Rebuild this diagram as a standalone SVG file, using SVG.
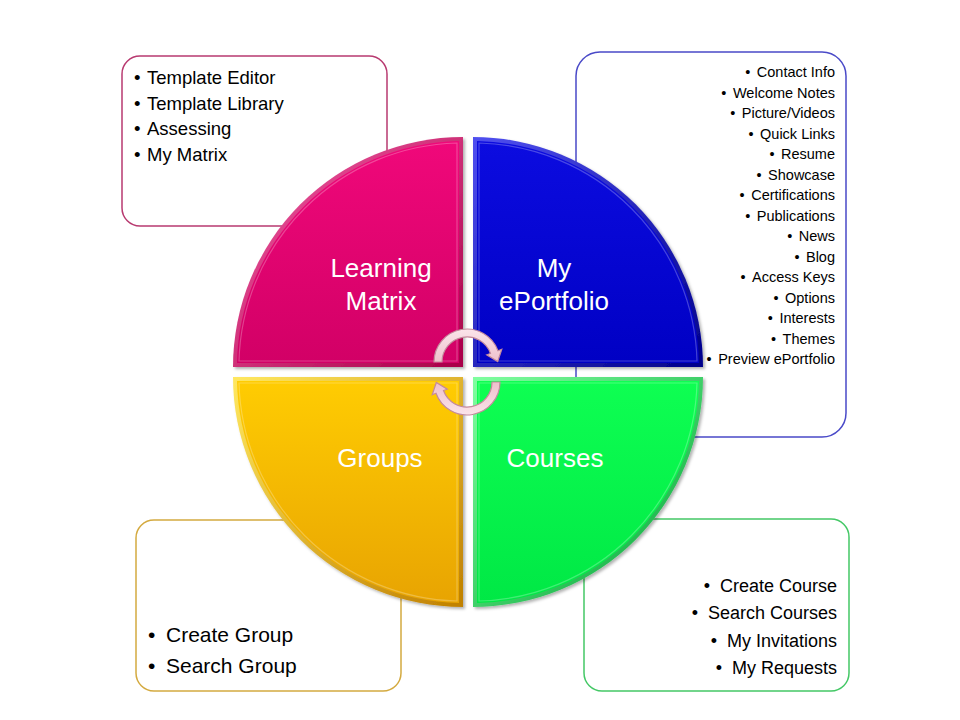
<svg xmlns="http://www.w3.org/2000/svg" width="960" height="720" viewBox="0 0 960 720">
<defs>
<style>
.box{fill:#ffffff;stroke-width:1.5}
.lbl{font-family:"Liberation Sans",Arial,sans-serif;font-size:26px;fill:#ffffff;text-anchor:middle}
.tl{font-family:"Liberation Sans",Arial,sans-serif;font-size:18.5px;fill:#000000}
.tr{font-family:"Liberation Sans",Arial,sans-serif;font-size:14.5px;fill:#000000;text-anchor:end}
.bl{font-family:"Liberation Sans",Arial,sans-serif;font-size:21px;fill:#000000}
.br{font-family:"Liberation Sans",Arial,sans-serif;font-size:18px;fill:#000000;text-anchor:end}
.hl{fill:none;stroke:#ffffff;stroke-opacity:0.25;stroke-width:1.2}
.arr{fill:url(#gArr);stroke:#c48a9c;stroke-width:1.2}
</style>
<linearGradient id="mBand" x1="0" y1="0" x2="1" y2="1"><stop offset="0" stop-color="#f560a8"/><stop offset="1" stop-color="#a80048"/></linearGradient>
<linearGradient id="mIn" x1="0" y1="0" x2="0" y2="1"><stop offset="0" stop-color="#f0087a"/><stop offset="1" stop-color="#d20066"/></linearGradient>
<linearGradient id="bBand" x1="0" y1="0" x2="1" y2="1"><stop offset="0" stop-color="#5050f0"/><stop offset="1" stop-color="#00008a"/></linearGradient>
<linearGradient id="bIn" x1="0" y1="0" x2="0" y2="1"><stop offset="0" stop-color="#0c0ce0"/><stop offset="1" stop-color="#0000c4"/></linearGradient>
<linearGradient id="gBand" x1="0" y1="0" x2="1" y2="1"><stop offset="0" stop-color="#80ffa0"/><stop offset="1" stop-color="#00a032"/></linearGradient>
<linearGradient id="gIn" x1="0" y1="0" x2="0" y2="1"><stop offset="0" stop-color="#0eff52"/><stop offset="1" stop-color="#00e845"/></linearGradient>
<linearGradient id="yBand" x1="0" y1="0" x2="1" y2="1"><stop offset="0" stop-color="#ffe860"/><stop offset="1" stop-color="#c08000"/></linearGradient>
<linearGradient id="yIn" x1="0" y1="0" x2="0" y2="1"><stop offset="0" stop-color="#ffcc02"/><stop offset="1" stop-color="#e8a402"/></linearGradient>
<linearGradient id="gArr" x1="0" y1="0" x2="0" y2="1"><stop offset="0" stop-color="#fbe4ea"/><stop offset="1" stop-color="#eec0cc"/></linearGradient>
<filter id="sh" x="-10%" y="-10%" width="130%" height="130%"><feDropShadow dx="2" dy="2" stdDeviation="1.5" flood-color="#000000" flood-opacity="0.3"/></filter>
</defs>
<rect width="960" height="720" fill="#ffffff"/>

<g id="box-learning-matrix">
<rect class="box" x="122" y="56" width="265" height="170" rx="18" stroke="#b83a70"/>
<text class="tl" y="84"><tspan x="134">•</tspan><tspan x="147">Template Editor</tspan></text>
<text class="tl" y="110"><tspan x="134">•</tspan><tspan x="147">Template Library</tspan></text>
<text class="tl" y="135"><tspan x="134">•</tspan><tspan x="147">Assessing</tspan></text>
<text class="tl" y="161"><tspan x="134">•</tspan><tspan x="147">My Matrix</tspan></text>
</g>
<g id="box-eportfolio">
<rect class="box" x="576" y="52" width="270" height="385" rx="24" stroke="#4a4ac8"/>
<text class="tr" x="835" y="77">•<tspan dx="6.5">Contact Info</tspan></text>
<text class="tr" x="835" y="97.5">•<tspan dx="6.5">Welcome Notes</tspan></text>
<text class="tr" x="835" y="118">•<tspan dx="6.5">Picture/Videos</tspan></text>
<text class="tr" x="835" y="138.5">•<tspan dx="6.5">Quick Links</tspan></text>
<text class="tr" x="835" y="159">•<tspan dx="6.5">Resume</tspan></text>
<text class="tr" x="835" y="179.5">•<tspan dx="6.5">Showcase</tspan></text>
<text class="tr" x="835" y="200">•<tspan dx="6.5">Certifications</tspan></text>
<text class="tr" x="835" y="220.5">•<tspan dx="6.5">Publications</tspan></text>
<text class="tr" x="835" y="241">•<tspan dx="6.5">News</tspan></text>
<text class="tr" x="835" y="261.5">•<tspan dx="6.5">Blog</tspan></text>
<text class="tr" x="835" y="282">•<tspan dx="6.5">Access Keys</tspan></text>
<text class="tr" x="835" y="302.5">•<tspan dx="6.5">Options</tspan></text>
<text class="tr" x="835" y="323">•<tspan dx="6.5">Interests</tspan></text>
<text class="tr" x="835" y="343.5">•<tspan dx="6.5">Themes</tspan></text>
<text class="tr" x="835" y="364">•<tspan dx="6.5">Preview ePortfolio</tspan></text>
</g>
<g id="box-groups">
<rect class="box" x="136" y="520" width="265" height="171" rx="18" stroke="#d4aa40"/>
<text class="bl" y="642"><tspan x="148">•</tspan><tspan x="166">Create Group</tspan></text>
<text class="bl" y="673"><tspan x="148">•</tspan><tspan x="166">Search Group</tspan></text>
</g>
<g id="box-courses">
<rect class="box" x="584" y="519" width="265" height="172" rx="18" stroke="#44c866"/>
<text class="br" x="837" y="592">•<tspan dx="10">Create Course</tspan></text>
<text class="br" x="837" y="619">•<tspan dx="10">Search Courses</tspan></text>
<text class="br" x="837" y="647">•<tspan dx="10">My Invitations</tspan></text>
<text class="br" x="837" y="674">•<tspan dx="10">My Requests</tspan></text>
</g>

<g id="node-learning-matrix">
<path d="M463 367 L233 367 A230 230 0 0 1 463 137 Z" fill="url(#mBand)" filter="url(#sh)"/>
<path d="M459 363 L237 363 A226 226 0 0 1 459 141 Z" fill="url(#mIn)"/>
<path class="hl" d="M457 361 L239 361 A224 224 0 0 1 457 143 Z"/>
<text class="lbl" x="381" y="277">Learning</text>
<text class="lbl" x="381" y="310">Matrix</text>
</g>
<g id="node-eportfolio">
<path d="M473 367 L473 137 A230 230 0 0 1 703 367 Z" fill="url(#bBand)" filter="url(#sh)"/>
<path d="M477 363 L477 141 A226 226 0 0 1 699 363 Z" fill="url(#bIn)"/>
<path class="hl" d="M479 361 L479 143 A224 224 0 0 1 697 361 Z"/>
<text class="lbl" x="554" y="277">My</text>
<text class="lbl" x="554" y="310">ePortfolio</text>
</g>
<g id="node-courses">
<path d="M473 377 L703 377 A230 230 0 0 1 473 607 Z" fill="url(#gBand)" filter="url(#sh)"/>
<path d="M477 381 L699 381 A226 226 0 0 1 477 603 Z" fill="url(#gIn)"/>
<path class="hl" d="M479 383 L697 383 A224 224 0 0 1 479 601 Z"/>
<text class="lbl" x="555" y="467">Courses</text>
</g>
<g id="node-groups">
<path d="M463 377 L463 607 A230 230 0 0 1 233 377 Z" fill="url(#yBand)" filter="url(#sh)"/>
<path d="M459 381 L459 603 A226 226 0 0 1 237 381 Z" fill="url(#yIn)"/>
<path class="hl" d="M457 383 L457 601 A224 224 0 0 1 239 383 Z"/>
<text class="lbl" x="380" y="467">Groups</text>
</g>

<g id="connectors">
<path class="arr" d="M434 362 A33 33 0 0 1 498 350.7 L501.8 349.3 L497.7 361.5 L486.7 354.8 L490.5 353.45 A25 25 0 0 0 442 362 Z"/>
<path class="arr" transform="rotate(180 467 372)" d="M434 362 A33 33 0 0 1 498 350.7 L501.8 349.3 L497.7 361.5 L486.7 354.8 L490.5 353.45 A25 25 0 0 0 442 362 Z"/>
</g>
</svg>
